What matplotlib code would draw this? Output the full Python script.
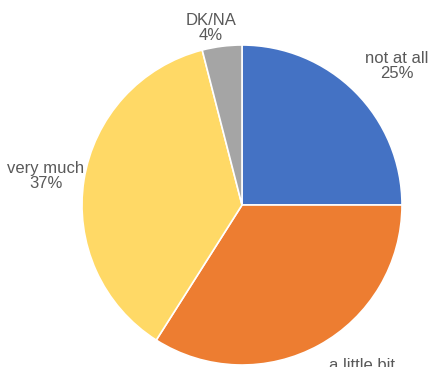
import matplotlib.pyplot as plt

plt.rcParams['font.family'] = ['Liberation Sans', 'DejaVu Sans']

labels = ['not at all', 'a little bit', 'very much', 'DK/NA']
values = [25, 34, 37, 4]
colors = ['#4472C4', '#ED7D31', '#FFD966', '#A5A5A5']
# label centres, in axes data units (pie radius = 1)
label_pos = [(0.969, 0.866), (0.75, -1.05), (-1.225, 0.184), (-0.194, 1.109)]

fig = plt.figure(figsize=(4.3, 3.67), dpi=100)
ax = fig.add_axes([82 / 430, 2 / 367, 320 / 430, 320 / 367])
ax.pie(values, colors=colors, startangle=90, counterclock=False, radius=1,
       wedgeprops=dict(edgecolor='white', linewidth=1.2))
ax.set_xlim(-1, 1)
ax.set_ylim(-1, 1)
ax.set_aspect('equal')
ax.axis('off')

for lab, v, (x, y) in zip(labels, values, label_pos):
    ax.text(x, y, '{}\n{}%'.format(lab, v), ha='center', va='center',
            fontsize=12, color='#595959', linespacing=1.0, clip_on=False)

fig.savefig('out.png', dpi=100)
